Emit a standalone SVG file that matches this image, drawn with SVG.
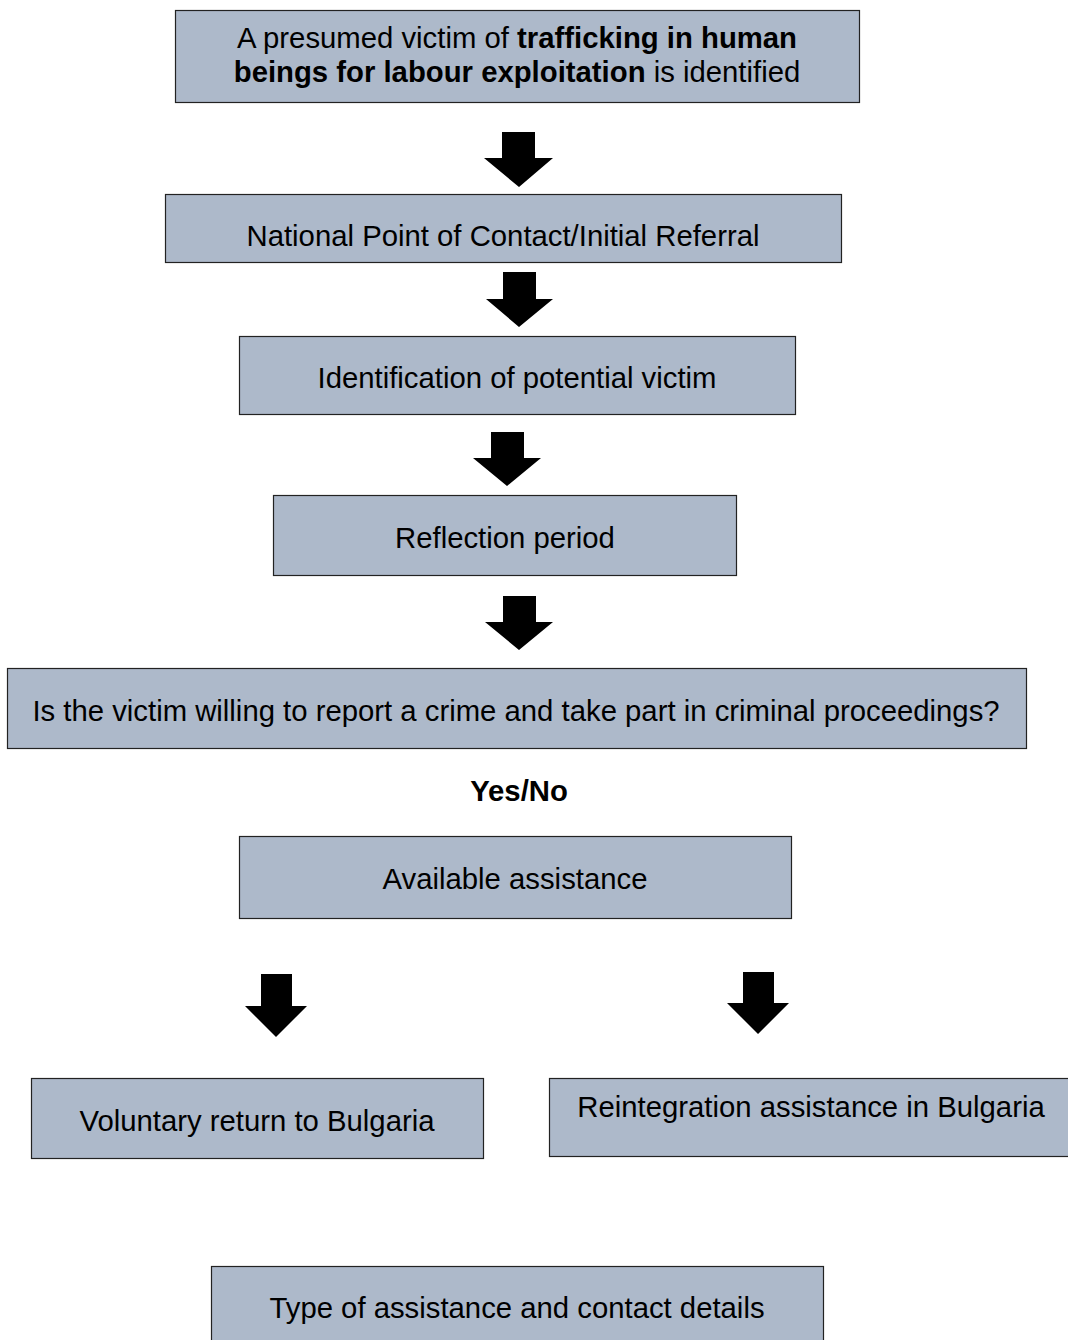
<svg xmlns="http://www.w3.org/2000/svg" width="1068" height="1340" viewBox="0 0 1068 1340">
<style>
.box{fill:#adb9ca;stroke:#222;stroke-width:1.2}
.t{font-family:"Liberation Sans",Arial,sans-serif;font-size:29.3px;fill:#000;text-anchor:middle}
.b{font-weight:bold}
.arr{fill:#000}
</style>
<rect width="1068" height="1340" fill="#fff"/>
<g id="n1"><rect class="box" x="175.5" y="10.5" width="684" height="92"/>
<text class="t" x="517" y="48">A presumed victim of <tspan class="b">trafficking in human</tspan></text>
<text class="t" x="517" y="82"><tspan class="b">beings for labour exploitation</tspan> is identified</text></g>
<g id="n2"><rect class="box" x="165.5" y="194.5" width="676" height="68"/>
<text class="t" x="503" y="246">National Point of Contact/Initial Referral</text></g>
<g id="n3"><rect class="box" x="239.5" y="336.5" width="556" height="78"/>
<text class="t" x="517" y="388">Identification of potential victim</text></g>
<g id="n4"><rect class="box" x="273.5" y="495.5" width="463" height="80"/>
<text class="t" x="505" y="548">Reflection period</text></g>
<g id="n5"><rect class="box" x="7.5" y="668.5" width="1019" height="80"/>
<text class="t" x="516" y="721">Is the victim willing to report a crime and take part in criminal proceedings?</text></g>
<g id="yesno"><text class="t b" x="519" y="801">Yes/No</text></g>
<g id="n6"><rect class="box" x="239.5" y="836.5" width="552" height="82"/>
<text class="t" x="515" y="889">Available assistance</text></g>
<g id="n7"><rect class="box" x="31.5" y="1078.5" width="452" height="80"/>
<text class="t" x="257" y="1131">Voluntary return to Bulgaria</text></g>
<g id="n8"><rect class="box" x="549.5" y="1078.5" width="530" height="78"/>
<text class="t" x="811" y="1117">Reintegration assistance in Bulgaria</text></g>
<g id="n9"><rect class="box" x="211.5" y="1266.5" width="612" height="90"/>
<text class="t" x="517" y="1318">Type of assistance and contact details</text></g>
<g id="connectors">
<polygon class="arr" points="502,132 535,132 535,158 553,158 519,187 484,158 502,158"/>
<polygon class="arr" points="503,272 536,272 536,299 553,299 519,327 486,299 503,299"/>
<polygon class="arr" points="491,432 524,432 524,458 541,458 507,486 473,458 491,458"/>
<polygon class="arr" points="503,596 536,596 536,622 553,622 519,650 485,622 503,622"/>
<polygon class="arr" points="261,974 292,974 292,1006 307,1006 276,1037 245,1006 261,1006"/>
<polygon class="arr" points="743,972 774,972 774,1003 789,1003 758,1034 727,1003 743,1003"/>
</g>
</svg>
